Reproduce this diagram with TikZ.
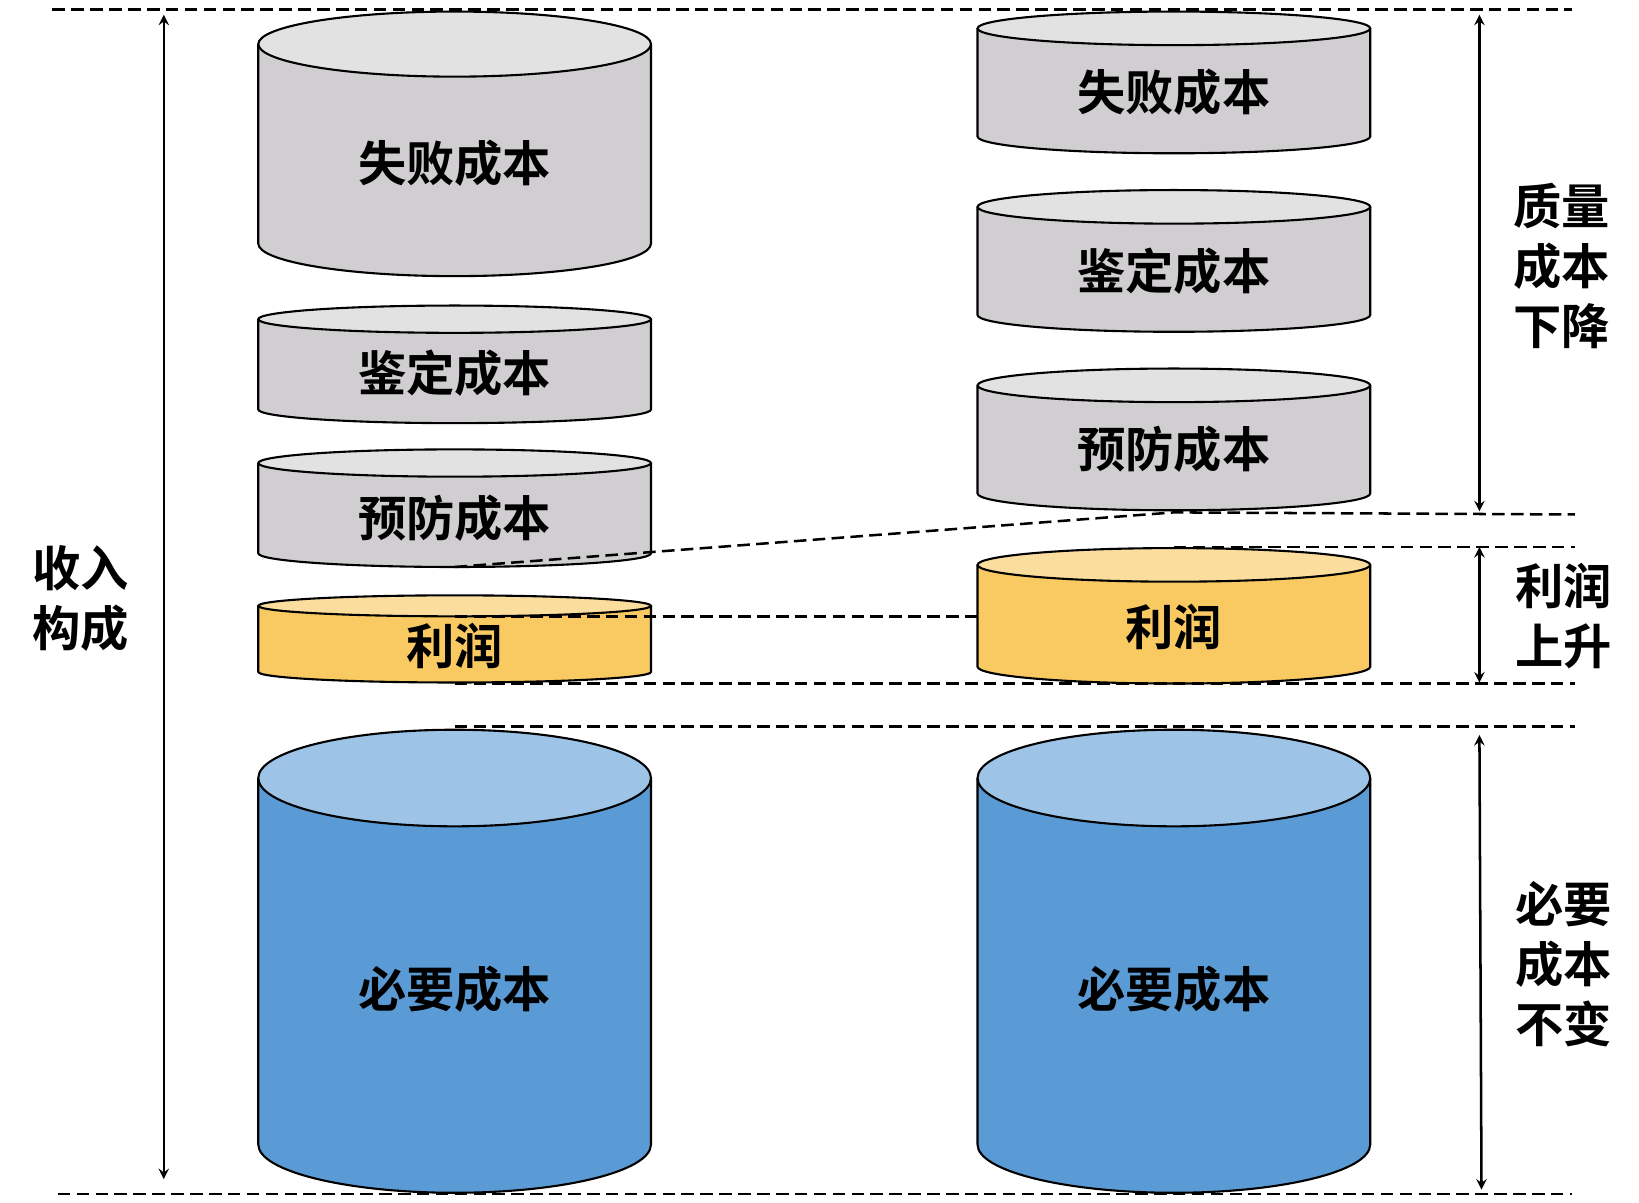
\documentclass[tikz,border=0pt]{standalone}
\usepackage{fontspec}
\newfontfamily\cjk{Noto Sans CJK SC Bold}
\definecolor{gside}{HTML}{D0CED0}
\definecolor{gtop}{HTML}{E2E2E2}
\definecolor{yside}{HTML}{F9C962}
\definecolor{ytop}{HTML}{FBDE9E}
\definecolor{bside}{HTML}{5B9BD5}
\definecolor{btop}{HTML}{9DC3E6}
\newcommand\mycyl[9]{%
  \fill[#5] (#1-187,#2) -- (#1-187,#3) arc[start angle=180,end angle=360,x radius=93.5pt,y radius=#4pt] -- (#1+187,#2) -- cycle;
  \draw[line width=1pt] (#1-187,#2) -- (#1-187,#3) arc[start angle=180,end angle=360,x radius=93.5pt,y radius=#4pt] -- (#1+187,#2);
  \draw[line width=1pt,fill=#6] (#1,#2) ellipse[x radius=93.5pt,y radius=#4pt];
  \node[lab] (#9) at (#1,#7) {#8};}
\begin{document}
\begin{tikzpicture}[x=0.5pt,y=-0.5pt,
  lab/.style={font=\cjk\fontsize{23pt}{28pt}\selectfont,inner sep=0pt},
  side/.style={font=\cjk\fontsize{23pt}{28.5pt}\selectfont,align=center,inner sep=0pt},
  dl/.style={dashed,line width=1.2pt,dash pattern=on 6pt off 3pt},
  ar/.style={<->,>=stealth,line width=1.2pt}]
\useasboundingbox (0,0) rectangle (1561,1145);
% left
\mycyl{433}{42}{232}{15.5}{gside}{gtop}{155}{失败成本}{l1}
\mycyl{433}{304}{390}{6.5}{gside}{gtop}{355}{鉴定成本}{l2}
\mycyl{433}{441}{527}{6.5}{gside}{gtop}{494}{预防成本}{l3}
\mycyl{433}{577}{640}{5}{yside}{ytop}{615}{利润}{l4}
\mycyl{433}{741}{1090}{23}{bside}{btop}{942}{必要成本}{l5}
% right
\mycyl{1118}{27}{130}{8}{gside}{gtop}{88}{失败成本}{r1}
\mycyl{1118}{197}{300}{8}{gside}{gtop}{258}{鉴定成本}{r2}
\mycyl{1118}{367}{470}{8}{gside}{gtop}{428}{预防成本}{r3}
\mycyl{1118}{538}{635}{8}{yside}{ytop}{597}{利润}{r4}
\mycyl{1118}{741}{1090}{23}{bside}{btop}{942}{必要成本}{r5}
% dashed lines
\coordinate (t1) at (50,9); \coordinate (t2) at (1497,9);
\coordinate (b1) at (55,1137); \coordinate (b2) at (1497,1137);
\draw[dl] (t1) -- (t2);
\draw[dl] (b1) -- (b2);
\draw[dl] (433,540) -- (1118,488) -- (1500,490);
\draw[dl] (1118,521) -- (1500,521);
\draw[dl] (433,587) -- (931,587);
\draw[dl] (433,651) -- (1500,651);
\draw[dl] (433,692) -- (1500,692);
% arrows
\draw[ar] (156,14) -- (156,1123);
\draw[ar] (1409,14) -- (1409,487);
\draw[ar] (1409,521) -- (1409,650);
\draw[ar] (1409,700) -- (1411,1133);
% side labels
\node[side] (s1) at (77,570) {收入\\构成};
\node[side] (s2) at (1487,253) {质量\\成本\\下降};
\node[side] (s3) at (1489,587) {利润\\上升};
\node[side] (s4) at (1489,918) {必要\\成本\\不变};
\end{tikzpicture}
\end{document}
